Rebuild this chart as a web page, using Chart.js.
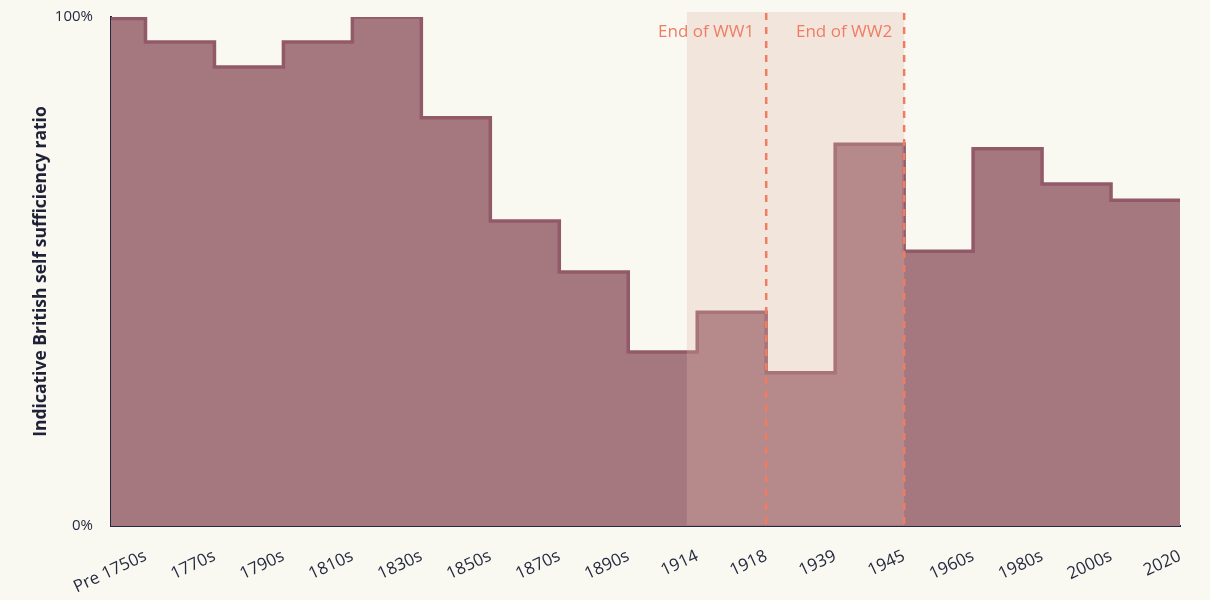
<!DOCTYPE html>
<html>
<head>
<meta charset="utf-8">
<script src="https://cdn.jsdelivr.net/npm/chart.js@4.4.1/dist/chart.umd.min.js"></script>
<style>
  html, body { margin: 0; padding: 0; background: #f9f8f1; }
  #wrap { width: 1210px; height: 600px; }
</style>
</head>
<body>
<div id="wrap"><canvas id="chart" width="1210" height="600"></canvas></div>
<script>
// tick labels along the bottom, one per step boundary
var periodLabels = ['Pre 1750s', '1770s', '1790s', '1810s', '1830s', '1850s', '1870s', '1890s',
    '1914', '1918', '1939', '1945', '1960s', '1980s', '2000s', '2020'];

// self sufficiency (%) for the step that ends at each label
var selfSufficiency = [99.7, 95.1, 90.2, 95.1, 100, 80.2, 59.9, 49.9,
    34.2, 42.0, 30.1, 75.0, 54.0, 74.1, 67.2, 64.0];

// war period shading and the two "end of war" markers (x in label index units)
var warBand = [7.85, 11];
var warEnds = [9, 11];
var warEndLabels = ['End of WW1', 'End of WW2'];

var inkColor = '#262a40';
var warColor = '#f07c64';

var points = [{ x: -0.5, y: selfSufficiency[0] }];
for (var i = 0; i < selfSufficiency.length; i++) {
    points.push({ x: i, y: selfSufficiency[i] });
}

var warPlugin = {
    id: 'warPlugin',
    afterDatasetsDraw: function(chart) {
        var ctx = chart.ctx;
        var xScale = chart.scales.x;
        var area = chart.chartArea;
        var left = xScale.getPixelForValue(warBand[0]);
        var right = xScale.getPixelForValue(warBand[1]);

        ctx.save();
        ctx.fillStyle = 'rgba(227, 183, 165, 0.28)';
        ctx.fillRect(left, area.top - 5, right - left, area.bottom - area.top + 4);

        ctx.strokeStyle = warColor;
        ctx.lineWidth = 2.5;
        ctx.setLineDash([7, 7]);
        for (var i = 0; i < warEnds.length; i++) {
            var px = xScale.getPixelForValue(warEnds[i]);
            ctx.beginPath();
            ctx.moveTo(px, area.top - 4);
            ctx.lineTo(px, area.bottom + 2);
            ctx.stroke();
        }

        ctx.setLineDash([]);
        ctx.fillStyle = warColor;
        ctx.font = '17px "Open Sans"';
        ctx.textAlign = 'right';
        ctx.textBaseline = 'middle';
        for (i = 0; i < warEnds.length; i++) {
            var tx = xScale.getPixelForValue(warEnds[i]) - 12;
            ctx.fillText(warEndLabels[i], tx, area.top + 15);
        }
        ctx.restore();
    }
};

Chart.defaults.font.family = '"Open Sans"';

var chart = new Chart(document.getElementById('chart'), {
    type: 'line',
    data: {
        datasets: [{
            data: points,
            stepped: 'after',
            fill: 'origin',
            backgroundColor: '#a57880',
            borderColor: '#925a69',
            borderWidth: 3.5,
            borderJoinStyle: 'miter',
            pointRadius: 0
        }]
    },
    options: {
        responsive: false,
        animation: false,
        devicePixelRatio: 1,
        layout: { padding: { top: 17, right: 30, left: 0, bottom: 0 } },
        plugins: {
            legend: { display: false },
            tooltip: { enabled: false }
        },
        scales: {
            x: {
                type: 'linear',
                min: -0.5,
                max: 15,
                grid: { display: false, drawTicks: false },
                border: { display: true, color: inkColor, width: 2 },
                afterBuildTicks: function(scale) {
                    scale.ticks = periodLabels.map(function(l, i) { return { value: i }; });
                },
                afterFit: function(scale) {
                    scale.height = 74;
                    scale.paddingLeft = 0;
                    scale.paddingRight = 0;
                },
                ticks: {
                    autoSkip: false,
                    minRotation: 25,
                    maxRotation: 25,
                    padding: 20,
                    color: inkColor,
                    font: { size: 17 },
                    callback: function(value) { return periodLabels[value]; }
                }
            },
            y: {
                min: 0,
                max: 100,
                grid: { display: false, drawTicks: false },
                border: { display: true, color: inkColor, width: 2 },
                afterBuildTicks: function(scale) {
                    scale.ticks = [{ value: 0 }, { value: 100 }];
                },
                afterFit: function(scale) {
                    scale.width = 111;
                    scale.paddingTop = 0;
                    scale.paddingBottom = 0;
                },
                ticks: {
                    padding: 18,
                    color: inkColor,
                    font: { size: 15 },
                    callback: function(value) { return value + '%'; }
                },
                title: {
                    display: true,
                    text: 'Indicative British self sufficiency ratio',
                    color: '#1f2236',
                    font: { size: 17.5, weight: 'bold' },
                    padding: { top: 31, bottom: 0 }
                }
            }
        }
    },
    plugins: [warPlugin]
});
</script>
</body>
</html>
